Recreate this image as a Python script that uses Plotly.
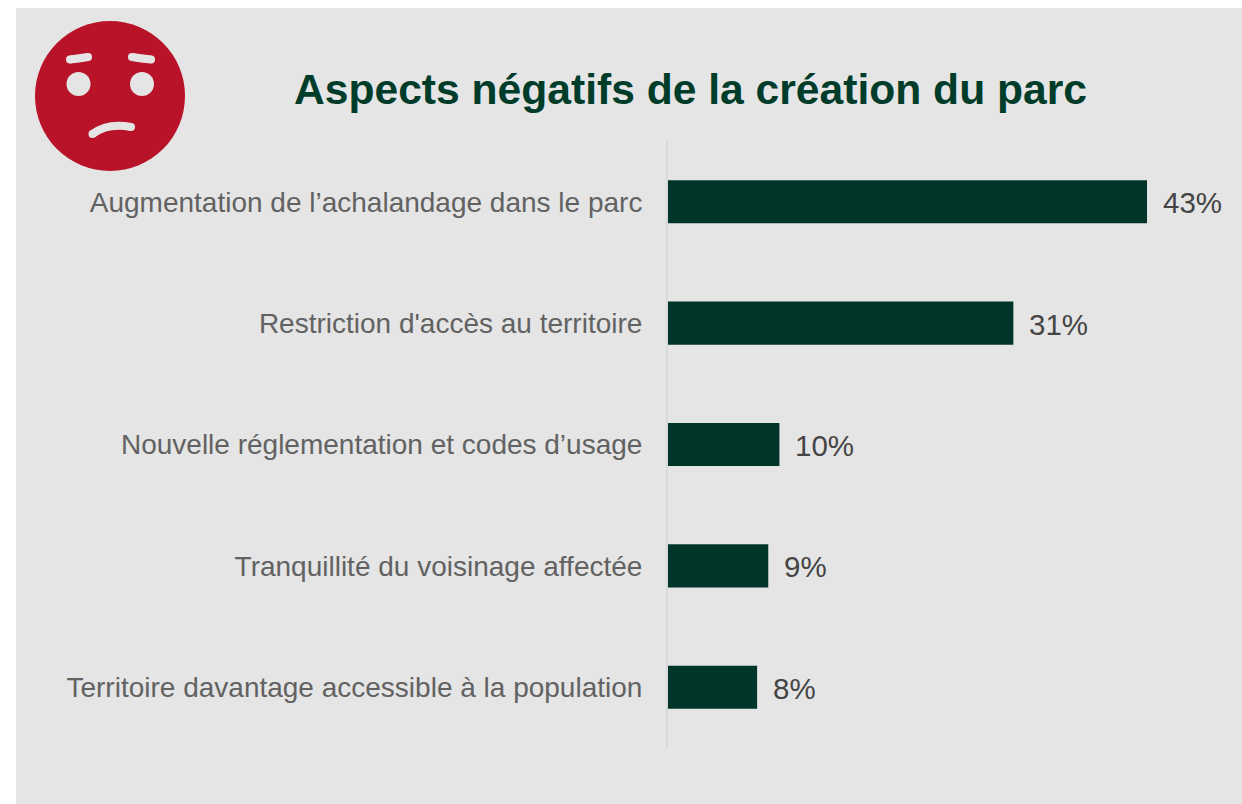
import plotly.graph_objects as go

categories = ["Augmentation de l’achalandage dans le parc", "Restriction d'accès au territoire",
              "Nouvelle réglementation et codes d’usage", "Tranquillité du voisinage affectée",
              "Territoire davantage accessible à la population"]
values = [43, 31, 10, 9, 8]
value_labels = ["43%", "31%", "10%", "9%", "8%"]
title_text = "Aspects négatifs de la création du parc"

W, H = 1242, 804
FONT = "Liberation Sans, Arial, sans-serif"
PANEL = "#E5E5E5"
RED = "#B91329"
DARK = "#00362A"

def px(x):
    return x / W

def py(y):
    return 1 - y / H

def paper_shape(kind, x0, y0, x1, y1, fill):
    return dict(type=kind, xref="paper", yref="paper", x0=px(x0), x1=px(x1), y0=py(y0), y1=py(y1),
                fillcolor=fill, line=dict(width=0), layer="below")

def stroke(d_points, width, color):
    (ax, ay), (cx, cy), (bx, by) = d_points
    path = f"M {px(ax)} {py(ay)} Q {px(cx)} {py(cy)} {px(bx)} {py(by)}"
    r = width / 2
    return [
        dict(type="path", xref="paper", yref="paper", path=path, line=dict(color=color, width=width),
             fillcolor="rgba(0,0,0,0)", layer="below"),
        paper_shape("circle", ax - r, ay - r, ax + r, ay + r, color),
        paper_shape("circle", bx - r, by - r, bx + r, by + r, color),
    ]

shapes = [
    paper_shape("rect", 16, 8, W, H, PANEL),
    paper_shape("circle", 35, 21, 185, 171, RED),
    paper_shape("circle", 66.5, 72, 90.5, 96, PANEL),
    paper_shape("circle", 130, 72, 154, 96, PANEL),
]
shapes += stroke([(70, 59.5), (79, 58.5), (88, 57)], 8, PANEL)
shapes += stroke([(132, 57), (141, 58.5), (151, 59.5)], 8, PANEL)
shapes += stroke([(92.5, 134), (108, 122.5), (131, 127)], 8, PANEL)

fig = go.Figure(go.Bar(
    y=categories, x=values, orientation="h",
    marker=dict(color=DARK, line=dict(width=0)),
    hoverinfo="skip", width=0.355,
))

annotations = [
    dict(x=v, y=c, xref="x", yref="y", text=t, showarrow=False, xanchor="left", xshift=14, yshift=-1,
         font=dict(family=FONT, size=29.5, color="#454545"))
    for c, v, t in zip(categories, values, value_labels)
]
annotations.append(dict(x=px(690.5), y=py(89.5), xref="paper", yref="paper", text=f"<b>{title_text}</b>",
                        showarrow=False, xanchor="center", yanchor="middle",
                        font=dict(family=FONT, size=42.6, color="#003C2A")))

fig.update_layout(
    width=W, height=H, autosize=False, margin=dict(l=0, r=0, t=0, b=0),
    paper_bgcolor="white", plot_bgcolor="rgba(0,0,0,0)", showlegend=False,
    shapes=shapes, annotations=annotations,
    xaxis=dict(domain=[px(668), 1], range=[0, 574 / 11.14], visible=False, fixedrange=True),
    yaxis=dict(domain=[py(748), py(141)], autorange="reversed", showline=True, linecolor="#D9D9D9", linewidth=2,
               showgrid=False, zeroline=False, ticks="", ticklabelstandoff=18,
               tickfont=dict(family=FONT, size=28, color="#626262"), fixedrange=True),
)

fig.write_html("out.html", config=dict(displayModeBar=False),
               post_script="document.body.style.margin='0';document.documentElement.style.overflow='hidden';")
